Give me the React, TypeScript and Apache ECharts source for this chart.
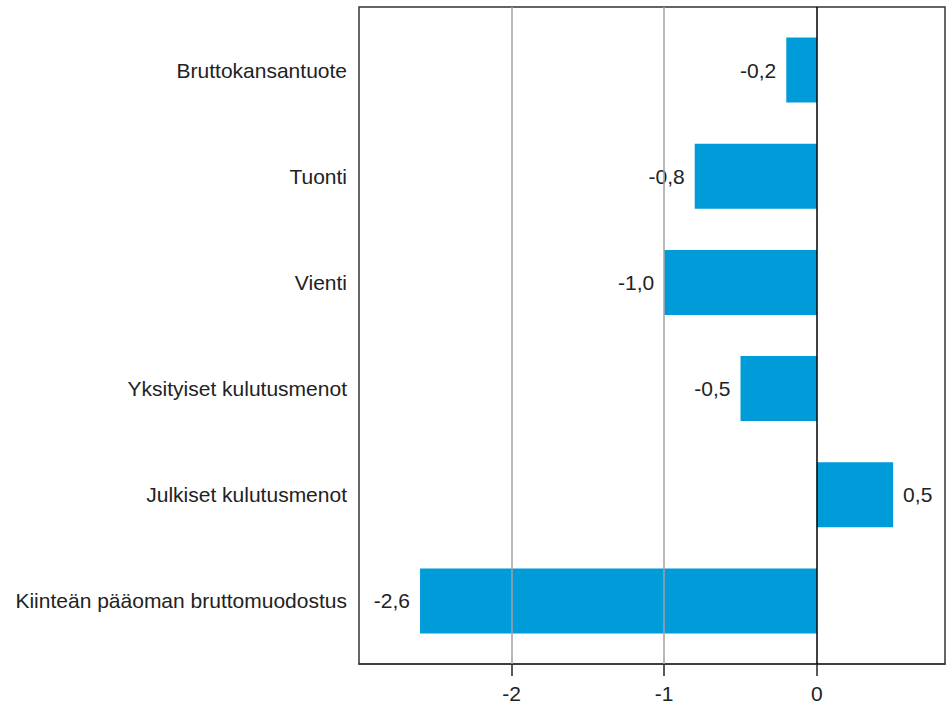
import React, { useEffect, useRef } from "react";
import * as echarts from "echarts";

const categories = [
  "Bruttokansantuote",
  "Tuonti",
  "Vienti",
  "Yksityiset kulutusmenot",
  "Julkiset kulutusmenot",
  "Kiinteän pääoman bruttomuodostus",
];
const values = [-0.2, -0.8, -1.0, -0.5, 0.5, -2.6];
const tickValues = [-2, -1, 0];
const greyGridValues = [-2, -1];
const zeroLineValue = 0;

const FONT = "'Liberation Sans', Arial, sans-serif";
const TEXT = "#222222";
const BAR = "#009cda";
const X_MIN = -3;
const X_MAX = 0.84;

const fmt = (v: number, d: number) => {
  const s = d > 0 ? v.toFixed(d) : String(v);
  return s.replace(".", ",");
};

export default function App() {
  const ref = useRef<HTMLDivElement>(null);
  useEffect(() => {
    if (!ref.current) return;
    const chart = echarts.init(ref.current, null, { renderer: "svg" });
    const gridLeft = 359;
    const gridWidth = 586;
    chart.setOption({
      animation: false,
      backgroundColor: "#ffffff",
      grid: [
        { left: gridLeft, top: 7, width: gridWidth, height: 657, show: true, borderColor: "#333333", borderWidth: 1.5, backgroundColor: "transparent" },
        { left: gridLeft, top: 17, width: gridWidth, height: 637 },
      ],
      xAxis: [
        {
          type: "value",
          gridIndex: 0,
          min: X_MIN,
          max: X_MAX,
          axisLine: { show: true, lineStyle: { color: "#333333", width: 1.5 } },
          axisTick: { show: true, customValues: tickValues, length: 12, lineStyle: { color: TEXT, width: 1.5 } },
          axisLabel: {
            customValues: tickValues,
            margin: 19,
            fontSize: 21,
            fontFamily: FONT,
            color: TEXT,
            formatter: (v: number) => fmt(v, 0),
          },
          splitLine: { show: false },
        },
        {
          type: "value",
          gridIndex: 1,
          min: X_MIN,
          max: X_MAX,
          show: false,
          splitLine: { show: false },
        },
      ],
      yAxis: [
        { type: "value", gridIndex: 0, min: 0, max: 1, show: false, splitLine: { show: false } },
        {
          type: "category",
          gridIndex: 1,
          data: categories,
          inverse: true,
          axisLine: { show: false },
          axisTick: { show: false },
          splitLine: { show: false },
          axisLabel: { margin: 12, fontSize: 21, fontFamily: FONT, color: TEXT },
        },
      ],
      series: [
        {
          type: "scatter",
          xAxisIndex: 0,
          yAxisIndex: 0,
          data: [[0, 0]],
          symbolSize: 0,
          silent: true,
          z: 1,
          markLine: {
            silent: true,
            symbol: ["none", "none"],
            label: { show: false },
            lineStyle: { color: "#a0a0a0", width: 1.5, type: "solid" },
            data: greyGridValues.map((v) => ({ xAxis: v })),
          },
        },
        {
          type: "bar",
          xAxisIndex: 1,
          yAxisIndex: 1,
          barWidth: 65,
          z: 3,
          itemStyle: { color: BAR },
          label: {
            show: true,
            distance: 10,
            fontSize: 21,
            fontFamily: FONT,
            color: TEXT,
            formatter: (p: any) => fmt(p.value, 1),
          },
          data: values.map((v) => ({ value: v, label: { position: v < 0 ? "left" : "right" } })),
        },
        {
          type: "scatter",
          xAxisIndex: 0,
          yAxisIndex: 0,
          data: [[0, 0]],
          symbolSize: 0,
          silent: true,
          z: 5,
          markLine: {
            silent: true,
            symbol: ["none", "none"],
            label: { show: false },
            lineStyle: { color: "#000000", width: 1.5, type: "solid" },
            data: [{ xAxis: zeroLineValue }],
          },
        },
      ],
    });
    return () => chart.dispose();
  }, []);
  return (
    <div
      ref={ref}
      style={{ position: "fixed", left: 0, top: 0, width: 951, height: 707, background: "#fff" }}
    />
  );
}
